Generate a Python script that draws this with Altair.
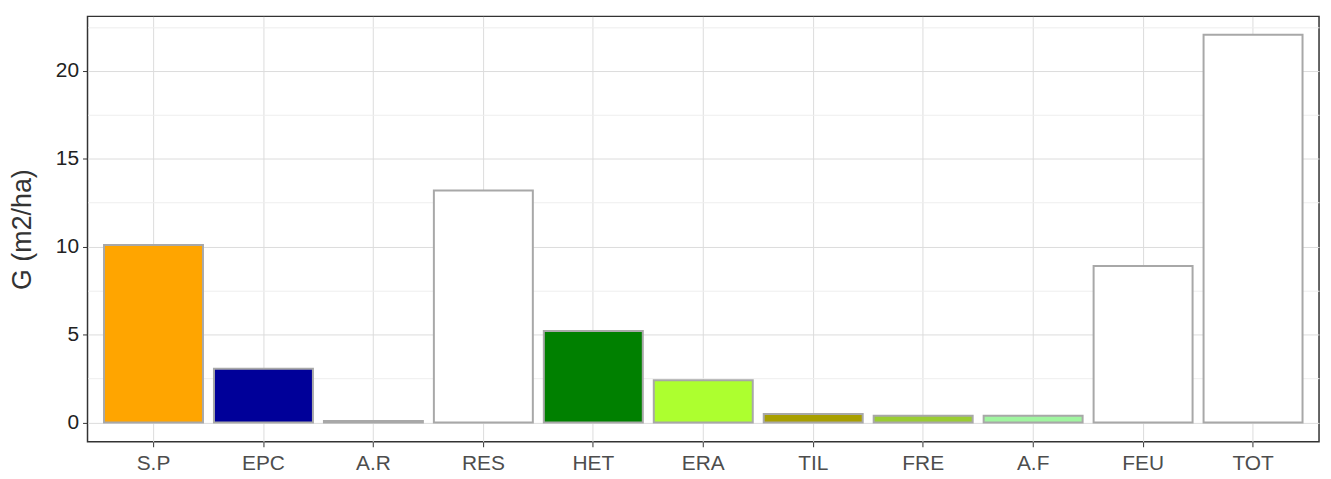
import altair as alt
import pandas as pd

categories = ["S.P", "EPC", "A.R", "RES", "HET", "ERA", "TIL", "FRE", "A.F", "FEU", "TOT"]
values = [10.1, 3.05, 0.08, 13.2, 5.2, 2.4, 0.48, 0.38, 0.38, 8.9, 22.05]
fill_colors = ["#FFA500", "#000099", "#BEBEBE", "#FFFFFF", "#008000", "#ADFF2F",
               "#A89F00", "#9ACD32", "#A0F5A0", "#FFFFFF", "#FFFFFF"]
major_ticks = [0, 5, 10, 15, 20]
minor_ticks = [-2.5, 2.5, 7.5, 12.5, 17.5, 22.5]

df = pd.DataFrame({"cat": categories, "G": values, "zero": [0] * len(categories)})

FONT = "Liberation Sans"

x_enc = alt.X("cat:N", sort=categories, title=None,
              scale=alt.Scale(paddingInner=0.1, paddingOuter=0.15),
              axis=alt.Axis(grid=True, gridColor="#dcdcdc", gridWidth=1,
                            bandPosition=0.5, domain=False,
                            tickColor="#333333", tickSize=5, tickWidth=1,
                            labelFontSize=21, labelColor="#4d4d4d", labelFont=FONT,
                            labelPadding=6, labelAngle=0))

y_scale = alt.Scale(domain=[-1.1, 23.1], nice=False, zero=False)

minor = alt.Chart(df).mark_point(opacity=0).encode(
    x=x_enc,
    y=alt.Y("G:Q", scale=y_scale,
            axis=alt.Axis(orient="right", values=minor_ticks, grid=True,
                          gridColor="#eeeeee", gridWidth=1, labels=False,
                          ticks=False, domain=False, title=None)),
)

bars = alt.Chart(df).mark_bar(stroke="#a8a8a8", strokeWidth=2).encode(
    x=x_enc,
    y=alt.Y("G:Q", scale=y_scale,
            axis=alt.Axis(values=major_ticks, grid=True, gridColor="#dcdcdc",
                          gridWidth=1, domain=False, tickColor="#333333",
                          tickSize=5, tickWidth=1, labelFontSize=21,
                          labelColor="#222222", labelFont=FONT, labelPadding=4,
                          title="G (m2/ha)", titleFontSize=27,
                          titleFontWeight="normal", titleFont=FONT,
                          titleColor="#333333", titleX=-51)),
    y2=alt.Y2("zero:Q"),
    color=alt.Color("cat:N", sort=categories,
                    scale=alt.Scale(domain=categories, range=fill_colors),
                    legend=None),
)

chart = alt.layer(minor, bars).resolve_axis(y="independent").properties(
    width=1239, height=428,
    autosize=alt.AutoSizeParams(type="none"),
    padding={"left": 80, "top": 7, "right": 4, "bottom": 34},
    background="white",
).configure_view(stroke="#333333", strokeWidth=1.5)

chart.save("out.html", embed_options={"renderer": "svg", "actions": False})
